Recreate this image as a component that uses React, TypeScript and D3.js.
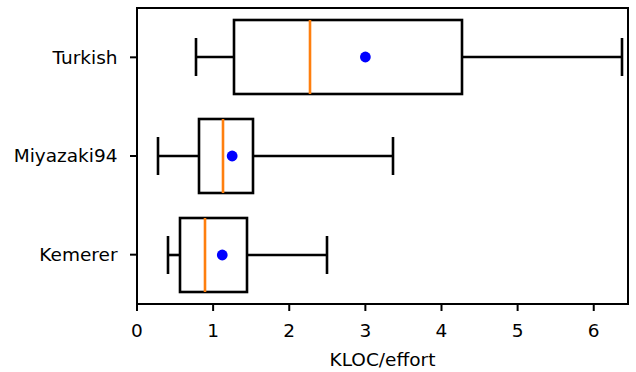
import * as d3 from 'd3';
import React from 'react';

// datasets, bottom to top
const categories = ["Kemerer", "Miyazaki94", "Turkish"];
const whiskerLow = [0.41, 0.27, 0.77];
const q1 = [0.57, 0.81, 1.27];
const median = [0.89, 1.13, 2.27];
const q3 = [1.44, 1.53, 4.27];
const whiskerHigh = [2.5, 3.36, 6.37];
const mean = [1.12, 1.25, 3.0];
const xTicks = [0, 1, 2, 3, 4, 5, 6];

const WIDTH = 636;
const HEIGHT = 372;
const margin = { top: 8, right: 8, bottom: 68, left: 137 };
const FONT = "'DejaVu Sans', sans-serif";
const LW = 2.6;

const App: React.FC = () => {
  const x = d3.scaleLinear()
    .domain([0, 6.45])
    .range([margin.left, WIDTH - margin.right]);

  const y = d3.scaleLinear()
    .domain([0.5, 3.5])
    .range([HEIGHT - margin.bottom, margin.top]);

  const px = (v: number) => Math.round(v);
  const boxHalf = y(0) - y(0.375);
  const capHalf = y(0) - y(0.19);
  const plotBottom = HEIGHT - margin.bottom;

  return (
    <div style={{ position: "absolute", left: 0, top: 0 }}>
      <svg width={WIDTH} height={HEIGHT} style={{ display: "block", background: "white" }}>
        {categories.map((cat, i) => {
          const cy = px(y(i + 1));
          const top = px(cy - boxHalf);
          const bot = px(cy + boxHalf);
          return (
            <g key={cat}>
              {/* whiskers */}
              <line x1={px(x(whiskerLow[i]))} x2={px(x(q1[i]))} y1={cy} y2={cy} stroke="black" strokeWidth={LW} />
              <line x1={px(x(q3[i]))} x2={px(x(whiskerHigh[i]))} y1={cy} y2={cy} stroke="black" strokeWidth={LW} />
              <line x1={px(x(whiskerLow[i]))} x2={px(x(whiskerLow[i]))} y1={px(cy - capHalf)} y2={px(cy + capHalf)} stroke="black" strokeWidth={LW} />
              <line x1={px(x(whiskerHigh[i]))} x2={px(x(whiskerHigh[i]))} y1={px(cy - capHalf)} y2={px(cy + capHalf)} stroke="black" strokeWidth={LW} />
              {/* box */}
              <rect
                x={px(x(q1[i]))}
                y={top}
                width={px(x(q3[i])) - px(x(q1[i]))}
                height={bot - top}
                fill="none"
                stroke="black"
                strokeWidth={LW}
              />
              {/* median */}
              <line x1={px(x(median[i]))} x2={px(x(median[i]))} y1={top} y2={bot} stroke="#ff7f0e" strokeWidth={LW} />
              {/* mean */}
              <circle cx={x(mean[i])} cy={cy} r={5.4} fill="#0000ff" />
            </g>
          );
        })}

        {/* frame */}
        <rect
          x={margin.left}
          y={margin.top}
          width={WIDTH - margin.right - margin.left}
          height={plotBottom - margin.top}
          fill="none"
          stroke="black"
          strokeWidth={2}
        />

        {/* x axis */}
        {xTicks.map(t => (
          <g key={t} transform={`translate(${x(t)},${plotBottom})`}>
            <line y1={0} y2={7} stroke="black" strokeWidth={2} />
            <text y={33} textAnchor="middle" fontFamily={FONT} fontSize={18.5} fill="black">{t}</text>
          </g>
        ))}
        <text
          x={(margin.left + WIDTH - margin.right) / 2}
          y={366}
          textAnchor="middle"
          fontFamily={FONT}
          fontSize={18.5}
          fill="black"
        >
          KLOC/effort
        </text>

        {/* y axis */}
        {categories.map((cat, i) => (
          <g key={cat} transform={`translate(${margin.left},${y(i + 1)})`}>
            <line x1={0} x2={-7} stroke="black" strokeWidth={2} />
            <text x={-19.5} dy="0.35em" textAnchor="end" fontFamily={FONT} fontSize={18.5} fill="black">{cat}</text>
          </g>
        ))}
      </svg>
    </div>
  );
};

export default App;
